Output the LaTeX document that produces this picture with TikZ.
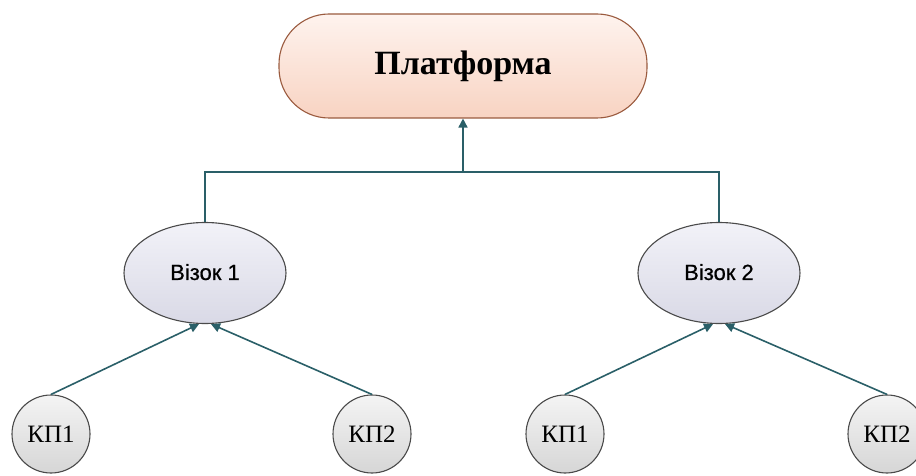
\documentclass[tikz,border=0pt]{standalone}
\usepackage{fontspec}
\setmainfont{Liberation Serif}
\newfontfamily\sansf{Liberation Sans}
\usetikzlibrary{shapes.geometric,arrows.meta,calc}
\definecolor{conn}{HTML}{2A5F68}
\definecolor{platborder}{HTML}{9A5A3E}
\definecolor{plattop}{HTML}{FEF3EE}
\definecolor{platbot}{HTML}{F8D3C2}
\definecolor{elltop}{HTML}{F2F2F8}
\definecolor{ellbot}{HTML}{D9D9E6}
\definecolor{circtop}{HTML}{F4F4F4}
\definecolor{circbot}{HTML}{D6D6D6}
\definecolor{nodeborder}{HTML}{4A4A4A}
\tikzset{
  platbox/.style={draw=platborder, line width=1.1pt, rounded corners=50pt,
    top color=plattop, bottom color=platbot, minimum width=368pt, minimum height=104pt,
    inner sep=0pt, font=\fontsize{34}{38}\selectfont\bfseries},
  cartbox/.style={ellipse, draw=nodeborder, line width=1.1pt, top color=elltop, bottom color=ellbot,
    minimum width=162pt, minimum height=101pt, inner sep=0pt,
    font=\sansf\fontsize{22}{24}\selectfont\addfontfeature{FakeBold=0.6}},
  kpbox/.style={circle, draw=nodeborder, line width=1.1pt, top color=circtop, bottom color=circbot,
    minimum size=78pt, inner sep=0pt, font=\fontsize{25}{28}\selectfont},
  link/.style={draw=conn, line width=1.6pt},
  arr/.style={link, -{Triangle[length=9pt,width=9pt]}}
}
\begin{document}
\begin{tikzpicture}[x=1pt,y=-1pt]
\useasboundingbox (0,0) rectangle (916,476);
\begin{scope}
\clip (0,0) rectangle (916,476);
\node[platbox] (p) at (463,66) {Платформа};
\node[cartbox] (v1) at (205,273) {\raisebox{2pt}{Візок 1}};
\node[cartbox] (v2) at (719,273) {\raisebox{2pt}{Візок 2}};
\node[kpbox] (a1) at (51,434) {КП1};
\node[kpbox] (a2) at (372,434) {КП2};
\node[kpbox] (b1) at (565,434) {КП1};
\node[kpbox] (b2) at (887,434) {КП2};
\coordinate (j) at (463,172);
\draw[link] (v1.north) |- (j) -| (v2.north);
\draw[arr] (j) -- (p.south);
\coordinate (v1l) at ($(v1.south)+(-6,0)$);
\coordinate (v1r) at ($(v1.south)+(6,0)$);
\coordinate (v2l) at ($(v2.south)+(-6,0)$);
\coordinate (v2r) at ($(v2.south)+(6,0)$);
\draw[arr] (a1.north) -- (v1l);
\draw[arr] (a2.north) -- (v1r);
\draw[arr] (b1.north) -- (v2l);
\draw[arr] (b2.north) -- (v2r);
\end{scope}
\end{tikzpicture}
\end{document}
